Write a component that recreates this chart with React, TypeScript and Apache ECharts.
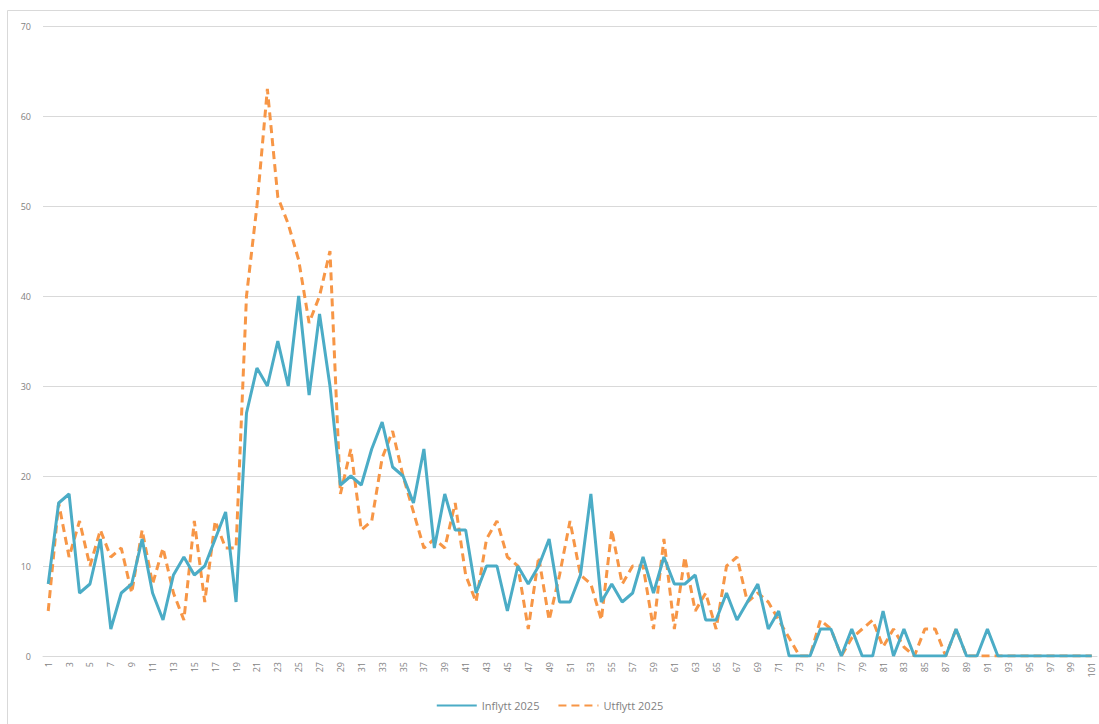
import React, { useEffect, useRef } from "react";
import * as echarts from "echarts";

const categories: string[] = Array.from({ length: 101 }, (_, i) => String(i + 1));

const inflytt: number[] = [
  8, 17, 18, 7, 8, 13, 3, 7, 8, 13,
  7, 4, 9, 11, 9, 10, 13, 16, 6, 27,
  32, 30, 35, 30, 40, 29, 38, 30, 19, 20,
  19, 23, 26, 21, 20, 17, 23, 12, 18, 14,
  14, 7, 10, 10, 5, 10, 8, 10, 13, 6,
  6, 9, 18, 6, 8, 6, 7, 11, 7, 11,
  8, 8, 9, 4, 4, 7, 4, 6, 8, 3,
  5, 0, 0, 0, 3, 3, 0, 3, 0, 0,
  5, 0, 3, 0, 0, 0, 0, 3, 0, 0,
  3, 0, 0, 0, 0, 0, 0, 0, 0, 0,
  0,
];

const utflytt: number[] = [
  5, 17, 11, 15, 10, 14, 11, 12, 7, 14,
  8, 12, 7, 4, 15, 6, 15, 12, 12, 40,
  50, 63, 51, 48, 44, 37, 40, 45, 18, 23,
  14, 15, 22, 25, 20, 16, 12, 13, 12, 17,
  9, 6, 13, 15, 11, 10, 3, 11, 4, 9,
  15, 9, 8, 4, 14, 8, 10, 10, 3, 13,
  3, 11, 5, 7, 3, 10, 11, 6, 7, 6,
  4, 2, 0, 0, 4, 3, 0, 2, 3, 4,
  1, 3, 1, 0, 3, 3, 0, 3, 0, 0,
  0, 0, 0, 0, 0, 0, 0, 0, 0, 0,
  0,
];

const seriesNames = ["Inflytt 2025", "Utflytt 2025"];
const TEAL = "#4bacc6";
const ORANGE = "#f79646";

export default function App() {
  const ref = useRef<HTMLDivElement>(null);

  useEffect(() => {
    if (!ref.current) return;
    const chart = echarts.init(ref.current, null, { renderer: "svg" });
    chart.setOption({
      animation: false,
      backgroundColor: "#ffffff",
      textStyle: { fontFamily: "Open Sans, Noto Sans, sans-serif" },
      graphic: [
        {
          type: "rect",
          shape: { x: 7.5, y: 10.5, width: 1095, height: 716 },
          style: { fill: "none", stroke: "#d9d9d9", lineWidth: 1 },
          silent: true,
        },
      ],
      grid: { left: 43, right: 2, top: 26, bottom: 68, containLabel: false },
      legend: {
        bottom: 8,
        left: "center",
        itemWidth: 40,
        itemHeight: 10,
        itemGap: 18,
        itemStyle: { opacity: 0 },
        textStyle: { color: "#7f7f7f", fontSize: 11 },
        data: seriesNames,
      },
      xAxis: {
        type: "category",
        data: categories,
        boundaryGap: true,
        axisLine: { show: true, lineStyle: { color: "#d9d9d9" } },
        axisTick: { show: false },
        axisLabel: {
          interval: 1,
          rotate: 90,
          color: "#7f7f7f",
          fontSize: 9,
          margin: 6,
        },
      },
      yAxis: {
        type: "value",
        min: 0,
        max: 70,
        interval: 10,
        axisLine: { show: false },
        axisTick: { show: false },
        axisLabel: { color: "#7f7f7f", fontSize: 9, margin: 12 },
        splitLine: { lineStyle: { color: "#d9d9d9", width: 1 } },
      },
      series: [
        {
          name: seriesNames[0],
          type: "line",
          data: inflytt,
          showSymbol: false,
          symbol: "none",
          color: TEAL,
          lineStyle: { color: TEAL, width: 3 },
          z: 3,
        },
        {
          name: seriesNames[1],
          type: "line",
          data: utflytt,
          showSymbol: false,
          symbol: "none",
          color: ORANGE,
          lineStyle: { color: ORANGE, width: 3, type: [8, 5] },
          z: 2,
        },
      ],
    });
    return () => chart.dispose();
  }, []);

  return (
    <div
      ref={ref}
      style={{ position: "fixed", left: 0, top: 0, width: 1099, height: 724 }}
    />
  );
}
